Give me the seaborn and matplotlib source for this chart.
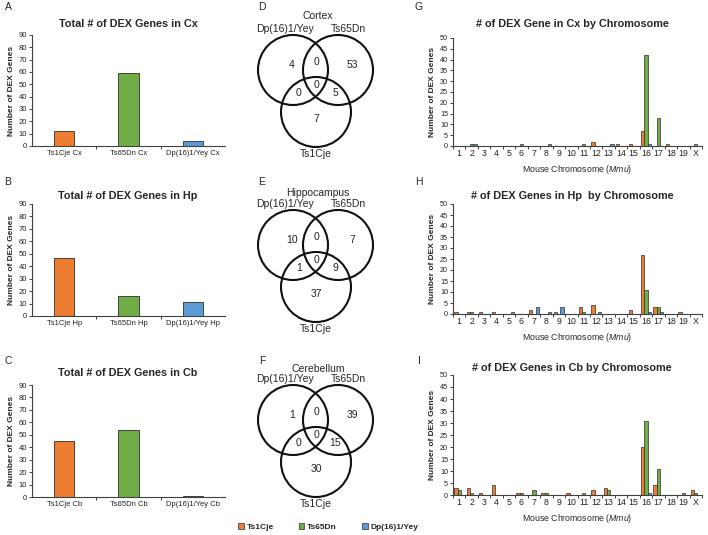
import numpy as np
import pandas as pd
import matplotlib
matplotlib.use('Agg')
import matplotlib.pyplot as plt
import seaborn as sns
from matplotlib.patches import Circle, Patch

sns.set_theme(style='white')
plt.rcParams['font.family'] = ['Liberation Sans', 'DejaVu Sans']
plt.rcParams['mathtext.fontset'] = 'custom'
plt.rcParams['mathtext.rm'] = 'Liberation Sans'
plt.rcParams['mathtext.it'] = 'Liberation Sans:italic'

# ---------------- data ----------------
strains = ['Ts1Cje', 'Ts65Dn', 'Dp(16)1/Yey']
regions = ['Cx', 'Hp', 'Cb']
total_cx = [12, 59, 4]
total_hp = [47, 16, 11]
total_cb = [45, 54, 1]

chroms = [str(i) for i in range(1, 20)] + ['X']
cx_ts1cje = [0, 0, 0, 0, 0, 0, 0, 0, 0, 0, 0, 2, 0, 1, 1, 7, 0, 1, 0, 0]
cx_ts65dn = [0, 1, 0, 0, 0, 1, 0, 0, 0, 0, 1, 0, 0, 0, 0, 42, 13, 0, 0, 1]
cx_dp16 = [0, 1, 0, 0, 0, 0, 0, 1, 0, 0, 0, 0, 1, 0, 0, 1, 0, 0, 0, 0]

hp_ts1cje = [1, 1, 1, 1, 0, 0, 2, 0, 1, 0, 3, 4, 0, 0, 2, 27, 3, 0, 1, 0]
hp_ts65dn = [0, 1, 0, 0, 0, 0, 0, 0, 0, 0, 1, 0, 0, 0, 0, 11, 3, 0, 0, 0]
hp_dp16 = [0, 0, 0, 0, 1, 0, 3, 1, 3, 0, 0, 1, 0, 0, 0, 1, 1, 0, 0, 0]

cb_ts1cje = [3, 3, 1, 4, 0, 1, 0, 1, 0, 1, 0, 2, 3, 0, 0, 20, 4, 0, 0, 2]
cb_ts65dn = [2, 1, 0, 0, 0, 1, 2, 1, 0, 0, 1, 0, 2, 0, 0, 31, 11, 0, 1, 1]
cb_dp16 = [0, 0, 0, 0, 0, 0, 0, 0, 0, 0, 0, 0, 0, 0, 0, 1, 0, 0, 0, 0]

# Venn: Dp-only, Dp&Ts65, Ts65-only, all, Dp&Ts1, Ts65&Ts1, Ts1-only
venn_cx = [4, 0, 53, 0, 0, 5, 7]
venn_hp = [10, 0, 7, 0, 1, 9, 37]
venn_cb = [1, 0, 39, 0, 0, 15, 30]
venn_titles = ['Cortex', 'Hippocampus', 'Cerebellum']

colors = ['#ED7D31', '#70AD47', '#5B9BD5']
pal = dict(zip(strains, colors))
EDGE = '#2e2e2e'

W, H = 708, 535
fig = plt.figure(figsize=(W / 100, H / 100), dpi=100)


def add_ax(x0, y0, x1, y1):
    return fig.add_axes([x0 / W, 1 - y1 / H, (x1 - x0) / W, (y1 - y0) / H])


def ftext(x, y, s, **kw):
    fig.text(x / W, 1 - y / H, s, **kw)


def style_axis(ax):
    for s in ['top', 'right']:
        ax.spines[s].set_visible(False)
    for s in ['left', 'bottom']:
        ax.spines[s].set_color('#404040')
        ax.spines[s].set_linewidth(0.8)
    ax.tick_params(axis='y', which='major', direction='out', length=2.5, width=0.7,
                   color='#404040', pad=1, left=True)
    ax.tick_params(axis='x', which='major', length=0, pad=3)
    ax.tick_params(axis='x', which='minor', direction='out', length=2.5, width=0.7,
                   color='#404040', bottom=True)


# ---------------- total panels A-C ----------------
tot_boxes = [(32, 35, 225, 146), (32, 204, 225, 316), (32, 385, 225, 497)]
tot_titles_y = [24, 196, 373]
letters_y = [7, 182, 361]
for i, (vals, reg) in enumerate(zip([total_cx, total_hp, total_cb], regions)):
    ax = add_ax(*tot_boxes[i])
    df = pd.DataFrame({'cat': [f'{s} {reg}' for s in strains], 'val': vals, 'strain': strains})
    sns.barplot(data=df, x='cat', y='val', hue='strain', palette=pal, hue_order=strains,
                dodge=False, width=0.32, saturation=1, edgecolor=EDGE, linewidth=0.6,
                legend=False, ax=ax)
    ax.set_xlim(-0.5, 2.5)
    ax.set_ylim(0, 90)
    ax.set_yticks(range(0, 91, 10))
    ax.set_xticks([0.5, 1.5], minor=True)
    style_axis(ax)
    ax.tick_params(axis='both', labelsize=5.5, labelcolor='#222222')
    ax.set_xlabel('')
    ax.set_ylabel('Number of DEX Genes', fontsize=6, fontweight='bold', labelpad=3)
    ftext(128, tot_titles_y[i], f'Total # of DEX Genes in {reg}', ha='center', va='center',
          fontsize=7.8, fontweight='bold')
    ftext(8, letters_y[i], 'ABC'[i], ha='center', va='center', fontsize=7.5)

# ---------------- Venn panels D-F ----------------
venn_sets = [venn_cx, venn_hp, venn_cb]
venn_off = [0, 175, 350]
venn_title_y = [16, 193, 369]
for i, nums in enumerate(venn_sets):
    y0 = venn_off[i]
    ax = add_ax(235, y0, 405, y0 + 170)
    ax.set_xlim(235, 405)
    ax.set_ylim(y0 + 170, y0)
    ax.axis('off')
    for (cx, cy) in [(293, 70), (338, 70), (316, 112)]:
        ax.add_patch(Circle((cx, y0 + cy), 35, fill=False, lw=1.5, ec='#111111'))
    pos = [(292, 65), (316, 62), (352, 65), (316, 85), (299, 93), (335, 93), (316, 119)]
    for (px, py), n in zip(pos, nums):
        ax.text(px, y0 + py, str(n), ha='center', va='center', fontsize=7.5, color='#222222')
    ax.text(285, y0 + 29, 'Dp(16)1/Yey', ha='center', va='center', fontsize=7.5)
    ax.text(348, y0 + 29, 'Ts65Dn', ha='center', va='center', fontsize=7.5)
    ax.text(316, y0 + 154, 'Ts1Cje', ha='center', va='center', fontsize=7.5)
    ftext(318, venn_title_y[i], venn_titles[i], ha='center', va='center', fontsize=7.5)
    ftext(262, letters_y[i], 'DEF'[i], ha='center', va='center', fontsize=7.5)

# ---------------- chromosome panels G-I ----------------
chr_sets = [(cx_ts1cje, cx_ts65dn, cx_dp16), (hp_ts1cje, hp_ts65dn, hp_dp16),
            (cb_ts1cje, cb_ts65dn, cb_dp16)]
chr_boxes = [(453, 38, 702, 146), (453, 204, 702, 314), (453, 375, 702, 495)]
chr_titles = ['# of DEX Gene in Cx by Chromosome', '# of DEX Genes in Hp  by Chromosome',
              '# of DEX Genes in Cb by Chromosome']
chr_title_y = [24, 196, 368]
for i, series in enumerate(chr_sets):
    ax = add_ax(*chr_boxes[i])
    rows = []
    for s, vals in zip(strains, series):
        for c, v in zip(chroms, vals):
            rows.append({'chrom': c, 'strain': s, 'count': v})
    df = pd.DataFrame(rows)
    sns.barplot(data=df, x='chrom', y='count', hue='strain', order=chroms, hue_order=strains,
                palette=pal, width=0.8, saturation=1, edgecolor=EDGE, linewidth=0.5,
                legend=False, ax=ax)
    ax.set_xlim(-0.5, 19.5)
    ax.set_ylim(0, 50)
    ax.set_yticks(range(0, 51, 5))
    ax.set_xticks(np.arange(-0.5, 19.6, 1.0), minor=True)
    style_axis(ax)
    ax.tick_params(axis='y', labelsize=5.2, labelcolor='#222222')
    ax.tick_params(axis='x', labelsize=6.3, labelcolor='#222222', pad=2)
    ax.set_ylabel('Number of DEX Genes', fontsize=6, fontweight='bold', labelpad=3)
    ax.set_xlabel('Mouse Chromosome ($\\mathit{Mmu}$)', fontsize=6.3, labelpad=4)
    ftext(572, chr_title_y[i], chr_titles[i], ha='center', va='center', fontsize=7.8,
          fontweight='bold')
    ftext(419, letters_y[i], 'GHI'[i], ha='center', va='center', fontsize=7.5)

# ---------------- legend ----------------
handles = [Patch(facecolor=c, edgecolor=EDGE, linewidth=0.5, label=s) for s, c in zip(strains, colors)]
fig.legend(handles=handles, loc='center', bbox_to_anchor=(328 / W, 1 - 527 / H), ncol=3,
           frameon=False, prop=dict(size=6, weight='bold'), handlelength=0.7, handleheight=0.7,
           columnspacing=3.0, handletextpad=0.3, borderpad=0)

fig.savefig('out.png', dpi=100)
